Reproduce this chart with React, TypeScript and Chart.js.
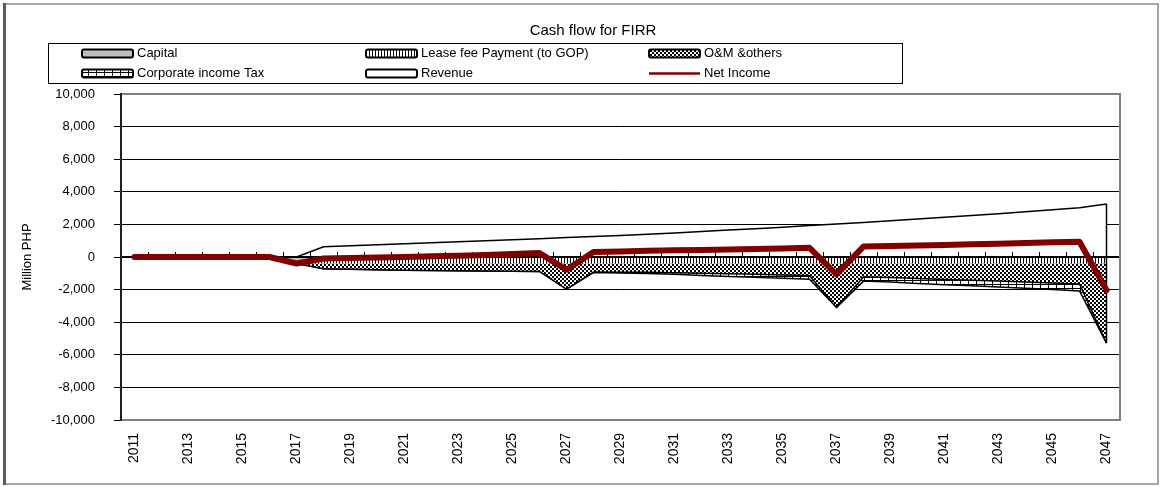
import React, { useEffect, useRef } from 'react';
import { Chart, registerables } from 'chart.js';

Chart.register(...registerables);

const FONT = "'Liberation Sans', Arial, sans-serif";

const chartTitle = 'Cash flow for FIRR';
const yAxisTitle = 'Million PHP';

const years = [
  '2011', '2012', '2013', '2014', '2015', '2016', '2017', '2018', '2019', '2020',
  '2021', '2022', '2023', '2024', '2025', '2026', '2027', '2028', '2029', '2030',
  '2031', '2032', '2033', '2034', '2035', '2036', '2037', '2038', '2039', '2040',
  '2041', '2042', '2043', '2044', '2045', '2046', '2047',
];

const capital = [
  0, 0, 0, 0, 0, 0, -400, 0, 0, 0,
  0, 0, 0, 0, 0, 0, 0, 0, 0, 0,
  0, 0, 0, 0, 0, 0, 0, 0, 0, 0,
  0, 0, 0, 0, 0, 0, 0,
];

const leaseFee = [
  0, 0, 0, 0, 0, 0, 0, -400, -400, -400,
  -400, -400, -400, -400, -400, -400, -400, -400, -400, -400,
  -400, -400, -400, -400, -400, -400, -400, -400, -400, -400,
  -400, -400, -400, -400, -400, -400, -400,
];

const omOthers = [
  0, 0, 0, 0, 0, 0, 0, -320, -350, -380,
  -410, -430, -450, -465, -470, -485, -1570, -515, -530, -540,
  -565, -600, -630, -660, -700, -735, -2690, -820, -860, -920,
  -980, -1030, -1080, -1140, -1200, -1260, -4880,
];

const corporateTax = [
  0, 0, 0, 0, 0, 0, 0, 0, 0, 0,
  0, 0, 0, 0, 0, 0, 0, -40, -50, -70,
  -100, -130, -160, -190, -210, -230, 0, -260, -280, -300,
  -320, -340, -360, -380, -400, -420, 0,
];

const revenue = [
  0, 0, 0, 0, 0, 0, 0, 630, 690, 750,
  810, 870, 930, 995, 1060, 1125, 1190, 1255, 1320, 1390,
  1475, 1560, 1650, 1740, 1830, 1925, 2020, 2120, 2220, 2330,
  2440, 2550, 2660, 2780, 2900, 3020, 3250,
];

const netIncome = [
  0, 0, 0, 0, 0, 0, -400, -90, -60, -30,
  0, 40, 80, 130, 190, 240, -780, 300, 340, 380,
  410, 430, 460, 490, 520, 560, -1070, 640, 680, 710,
  740, 780, 820, 860, 900, 940, -2030,
];

const seriesLabels = [
  'Capital',
  'Lease fee Payment (to GOP)',
  'O&M &others',
  'Corporate income Tax',
  'Revenue',
  'Net Income',
];

function makePattern(w: number, h: number, draw: (g: CanvasRenderingContext2D) => void) {
  const c = document.createElement('canvas');
  c.width = w;
  c.height = h;
  const g = c.getContext('2d') as CanvasRenderingContext2D;
  draw(g);
  return g.createPattern(c, 'repeat') as CanvasPattern;
}

export default function App() {
  const ref = useRef<HTMLCanvasElement>(null);

  useEffect(() => {
    const canvas = ref.current;
    if (!canvas) return;

    const stripes = makePattern(3, 1, (g) => {
      g.fillStyle = '#fff';
      g.fillRect(0, 0, 3, 1);
      g.fillStyle = '#000';
      g.fillRect(0, 0, 1, 1);
    });
    const checker = makePattern(4, 4, (g) => {
      g.fillStyle = '#fff';
      g.fillRect(0, 0, 4, 4);
      g.fillStyle = '#000';
      g.fillRect(0, 0, 2, 2);
      g.fillRect(2, 2, 2, 2);
    });
    const brick = makePattern(8, 4, (g) => {
      g.fillStyle = '#fff';
      g.fillRect(0, 0, 8, 4);
      g.fillStyle = '#000';
      g.fillRect(0, 0, 8, 1);
      g.fillRect(0, 0, 1, 4);
    });

    const fills: any[] = ['#c0c0c0', stripes, checker, brick, '#ffffff'];

    const decor = {
      id: 'decor',
      beforeDraw(chart: any) {
        const { ctx, width, height } = chart;
        ctx.save();
        ctx.fillStyle = '#fff';
        ctx.fillRect(0, 0, width, height);
        ctx.restore();
      },
      beforeDatasetDraw(chart: any, args: any) {
        if (args.index !== 5) return;
        const { ctx, chartArea: a } = chart;
        const x = chart.scales.x;
        const y = chart.scales.y;
        const y0 = Math.round(y.getPixelForValue(0));
        const last = years.length - 1;
        const rMeta = chart.getDatasetMeta(4);
        const tMeta = chart.getDatasetMeta(3);
        ctx.save();
        ctx.strokeStyle = '#000';
        ctx.lineWidth = 1.5;
        const px = rMeta.data[last].x;
        ctx.beginPath();
        ctx.moveTo(px, rMeta.data[last].y);
        ctx.lineTo(px, tMeta.data[last].y);
        ctx.stroke();
        ctx.lineWidth = 2;
        ctx.beginPath();
        ctx.moveTo(a.left, y0);
        ctx.lineTo(a.right, y0);
        ctx.stroke();
        const step = x.getPixelForValue(1) - x.getPixelForValue(0);
        const start = x.getPixelForValue(0) - step / 2;
        ctx.lineWidth = 1;
        for (let i = 0; i <= years.length; i++) {
          const tx = Math.round(start + i * step) + 0.5;
          ctx.beginPath();
          ctx.moveTo(tx, y0);
          ctx.lineTo(tx, y0 - 5);
          ctx.stroke();
        }
        ctx.restore();
      },
      afterDraw(chart: any) {
        const { ctx, chartArea: a } = chart;
        ctx.save();
        ctx.strokeStyle = '#808080';
        ctx.lineWidth = 2;
        ctx.strokeRect(a.left, a.top, a.right - a.left, a.bottom - a.top);
        ctx.strokeStyle = '#000';
        ctx.lineWidth = 1.5;
        ctx.beginPath();
        ctx.moveTo(a.left, a.top - 1);
        ctx.lineTo(a.left, a.bottom + 1);
        ctx.stroke();

        ctx.fillStyle = '#000';
        ctx.font = `15px ${FONT}`;
        ctx.textAlign = 'center';
        ctx.textBaseline = 'middle';
        ctx.fillText(chartTitle, 593, 31);

        ctx.strokeStyle = '#000';
        ctx.lineWidth = 1;
        ctx.strokeRect(48.5, 43.5, 854, 40);
        const cols = [82, 366, 649];
        const rows = [53.5, 73.5];
        const layout = [
          [0, 0], [1, 0], [2, 0],
          [0, 1], [1, 1], [2, 1],
        ];
        ctx.font = `13px ${FONT}`;
        ctx.textAlign = 'left';
        ctx.textBaseline = 'middle';
        for (let i = 0; i < 6; i++) {
          const sx = cols[layout[i][0]];
          const sy = rows[layout[i][1]];
          if (i === 5) {
            ctx.strokeStyle = '#800000';
            ctx.lineWidth = 2.5;
            ctx.beginPath();
            ctx.moveTo(sx, sy);
            ctx.lineTo(sx + 51, sy);
            ctx.stroke();
          } else {
            ctx.fillStyle = fills[i];
            ctx.beginPath();
            if ((ctx as any).roundRect) (ctx as any).roundRect(sx, sy - 4, 51, 8, 2);
            else ctx.rect(sx, sy - 4, 51, 8);
            ctx.fill();
            ctx.strokeStyle = '#000';
            ctx.lineWidth = 2;
            ctx.stroke();
          }
          ctx.fillStyle = '#000';
          ctx.fillText(seriesLabels[i], sx + 55, sy);
        }

        ctx.strokeStyle = '#8a8a8a';
        ctx.lineWidth = 1.5;
        ctx.strokeRect(4, 4, 1154, 480);
        ctx.strokeStyle = '#5a5a5a';
        ctx.lineWidth = 3;
        ctx.beginPath();
        ctx.moveTo(4.5, 3);
        ctx.lineTo(4.5, 485);
        ctx.stroke();
        ctx.restore();
      },
    };

    const chart = new Chart(canvas, {
      type: 'line',
      data: {
        labels: years,
        datasets: [
          {
            label: seriesLabels[0], data: capital, stack: 'cost', fill: 'origin',
            backgroundColor: fills[0], borderColor: '#000', borderWidth: 1, order: 1,
          },
          {
            label: seriesLabels[1], data: leaseFee, stack: 'cost', fill: '-1',
            backgroundColor: fills[1], borderColor: '#000', borderWidth: 0, order: 1,
          },
          {
            label: seriesLabels[2], data: omOthers, stack: 'cost', fill: '-1',
            backgroundColor: fills[2], borderColor: '#000', borderWidth: 1.5, order: 1,
          },
          {
            label: seriesLabels[3], data: corporateTax, stack: 'cost', fill: '-1',
            backgroundColor: fills[3], borderColor: '#000', borderWidth: 1.5, order: 1,
          },
          {
            label: seriesLabels[4], data: revenue, stack: 'rev', fill: 'origin',
            backgroundColor: fills[4], borderColor: '#000', borderWidth: 1.5, order: 1,
          },
          {
            label: seriesLabels[5], data: netIncome, stack: 'net', fill: false,
            borderColor: '#800000', borderWidth: 6, order: 0,
            borderCapStyle: 'round', borderJoinStyle: 'round',
          },
        ] as any,
      },
      options: {
        responsive: true,
        maintainAspectRatio: false,
        animation: false,
        layout: { padding: { left: 0, top: 94, right: 41, bottom: 0 } },
        elements: { point: { radius: 0 }, line: { tension: 0 } },
        plugins: {
          legend: { display: false },
          title: { display: false },
          tooltip: { enabled: false },
        },
        scales: {
          x: {
            type: 'category',
            offset: true,
            grid: { display: false },
            border: { display: false },
            ticks: {
              autoSkip: false,
              maxRotation: 90,
              minRotation: 90,
              padding: 5,
              color: '#000',
              font: { family: FONT, size: 14 },
              callback: (_v: any, i: number) => (i % 2 === 0 ? years[i] : ''),
            },
            afterFit: (s: any) => { s.height = 67; },
          },
          y: {
            stacked: true,
            min: -10000,
            max: 10000,
            ticks: {
              stepSize: 2000,
              padding: 19,
              color: '#000',
              font: { family: FONT, size: 13 },
              callback: (v: any) => Number(v).toLocaleString('en-US'),
            },
            grid: { color: '#000', lineWidth: 1, tickLength: 7 },
            border: { color: '#000', width: 1.5 },
            title: {
              display: true,
              text: yAxisTitle,
              color: '#000',
              font: { family: FONT, size: 13 },
              padding: { top: 20, bottom: 0 },
            },
            afterFit: (s: any) => { s.width = 121; },
          },
        },
      } as any,
      plugins: [decor],
    });

    return () => chart.destroy();
  }, []);

  return (
    <div style={{ position: 'absolute', left: 0, top: 0, width: 1161, height: 487 }}>
      <canvas ref={ref} />
    </div>
  );
}
